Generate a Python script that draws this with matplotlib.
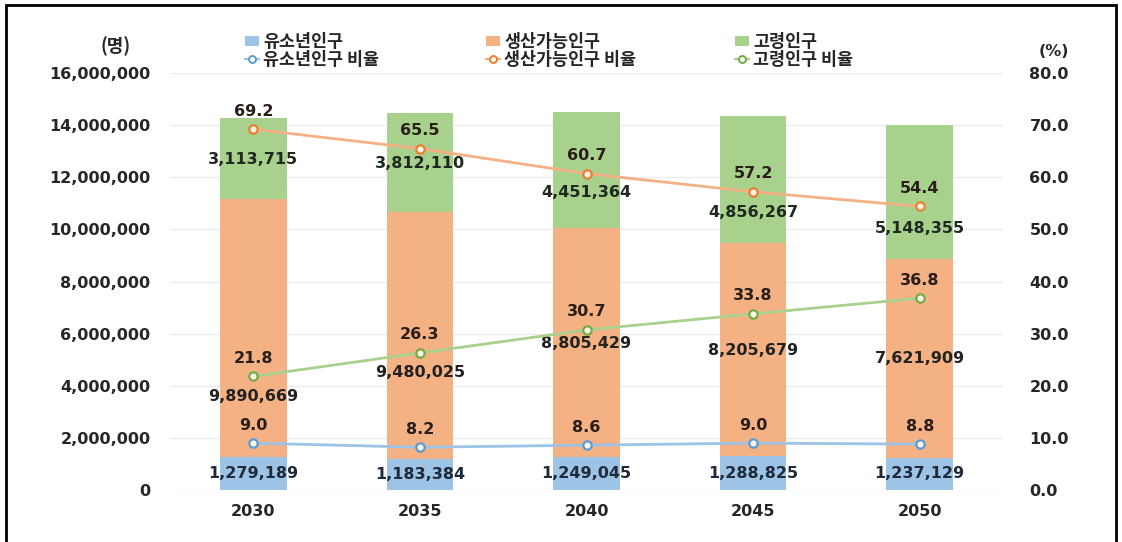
import matplotlib
matplotlib.use('Agg')
import matplotlib.pyplot as plt
from matplotlib.patches import Rectangle, Patch
from matplotlib.lines import Line2D
from matplotlib.ticker import FuncFormatter
import numpy as np

# ---------------- data ----------------
years = ['2030', '2035', '2040', '2045', '2050']
youth = [1279189, 1183384, 1249045, 1288825, 1237129]
working = [9890669, 9480025, 8805429, 8205679, 7621909]
elderly = [3113715, 3812110, 4451364, 4856267, 5148355]
youth_ratio = [9.0, 8.2, 8.6, 9.0, 8.8]
working_ratio = [69.2, 65.5, 60.7, 57.2, 54.4]
elderly_ratio = [21.8, 26.3, 30.7, 33.8, 36.8]
bar_names = ['유소년인구', '생산가능인구', '고령인구']
line_names = ['유소년인구 비율', '생산가능인구 비율', '고령인구 비율']
left_ticks = [0, 2000000, 4000000, 6000000, 8000000, 10000000, 12000000, 14000000, 16000000]
right_ticks = [0, 10, 20, 30, 40, 50, 60, 70, 80]

# ---------------- layout (hand-placed label heights, people axis) ----------------
working_label_y = [3.57e6, 4.49e6, 5.64e6, 5.37e6, 5.03e6]
elderly_label_y = [12.70e6, 12.51e6, 11.40e6, 10.63e6, 10.05e6]

bar_colors = ['#9DC3E6', '#F4B183', '#A9D18E']
line_colors = ['#9DC3E6', '#F4B183', '#A9D18E']
marker_edges = ['#5B9BD5', '#ED7D31', '#70AD47']

W, H = 1122, 542
fig = plt.figure(figsize=(W / 100, H / 100), dpi=100)
fig.patch.set_facecolor('white')

ax = fig.add_axes([170 / W, 52 / H, 833 / W, 417 / H])
ax2 = ax.twinx()

NUM_SIZE = 11.5
num_font = dict(family=['DejaVu Sans'], fontweight='bold', fontsize=NUM_SIZE)
kr_font = ['Noto Sans CJK KR', 'DejaVu Sans']

x = np.arange(len(years))
bw = 0.4
youth_a = np.array(youth)
working_a = np.array(working)
elderly_a = np.array(elderly)

ax.bar(x, youth_a, bw, color=bar_colors[0], zorder=2)
ax.bar(x, working_a, bw, bottom=youth_a, color=bar_colors[1], zorder=2)
ax.bar(x, elderly_a, bw, bottom=youth_a + working_a, color=bar_colors[2], zorder=2)

ax.set_xlim(-0.5, len(years) - 0.5)
ax.set_ylim(0, 16000000)
ax.set_yticks(left_ticks)
ax.yaxis.set_major_formatter(FuncFormatter(lambda v, p: f'{int(v):,}'))
ax.set_xticks(x)
ax.set_xticklabels(years)
ax.yaxis.grid(True, color='#ECECEC', lw=1, zorder=0)
ax.set_axisbelow(True)
for s in ax.spines.values():
    s.set_visible(False)
for s in ax2.spines.values():
    s.set_visible(False)
ax.tick_params(axis='y', length=0, pad=14)
ax.tick_params(axis='x', length=0, pad=10)
for lab in ax.get_yticklabels() + ax.get_xticklabels():
    lab.set_fontfamily('DejaVu Sans')
    lab.set_fontweight('bold')
    lab.set_fontsize(NUM_SIZE)
    lab.set_color('#262626')

ax2.set_ylim(0, 80)
ax2.set_yticks(right_ticks)
ax2.yaxis.set_major_formatter(FuncFormatter(lambda v, p: f'{v:.1f}'))
ax2.tick_params(axis='y', length=0, pad=19)
for lab in ax2.get_yticklabels():
    lab.set_fontfamily('DejaVu Sans')
    lab.set_fontweight('bold')
    lab.set_fontsize(NUM_SIZE)
    lab.set_color('#262626')

# bar value labels
for i in range(len(years)):
    ax.text(x[i], youth_a[i] / 2, f'{youth[i]:,}', ha='center', va='center',
            color='#1F2A3A', zorder=5, **num_font)
    ax.text(x[i], working_label_y[i], f'{working[i]:,}', ha='center', va='center',
            color='#222222', zorder=5, **num_font)
    ax.text(x[i], elderly_label_y[i], f'{elderly[i]:,}', ha='center', va='center',
            color='#1E2A1E', zorder=5, **num_font)

# ratio lines
for vals, lc, me in zip([youth_ratio, working_ratio, elderly_ratio], line_colors, marker_edges):
    ax2.plot(x, vals, color=lc, lw=2, marker='o', ms=6, mfc='#FFF5E6', mec=me, mew=1.6, zorder=4)
    for i, v in enumerate(vals):
        ax2.annotate(f'{v:.1f}', (x[i], v), xytext=(0, 18), textcoords='offset pixels',
                     ha='center', va='center', color='#2A1E18', zorder=6, **num_font)

# axis unit labels
fig.text(116 / W, 1 - 46 / H, '(명)', ha='center', va='center', family=kr_font,
         fontweight='bold', fontsize=13, color='#262626')
fig.text(1054 / W, 1 - 52 / H, '(%)', ha='center', va='center', family=['DejaVu Sans'],
         fontweight='bold', fontsize=NUM_SIZE, color='#262626')

# legends (one per series pair)
leg_x = [245, 486, 735]
for k in range(3):
    handles = [Patch(facecolor=bar_colors[k], edgecolor='none'),
               Line2D([0], [0], color=line_colors[k], lw=1.6, marker='o', ms=5,
                      mfc='white', mec=marker_edges[k], mew=1.4)]
    leg = fig.legend(handles, [bar_names[k], line_names[k]], loc='upper left',
                     bbox_to_anchor=(leg_x[k] / W, 1 - 33 / H), frameon=False,
                     prop=dict(family=kr_font, weight='bold', size=12.5),
                     handlelength=0.8, handleheight=0.5, handletextpad=0.25,
                     labelspacing=-0.02, borderpad=0, borderaxespad=0)
    for t in leg.get_texts():
        t.set_color('#262626')

# outer frame
fig.patches.append(Rectangle((6 / W, -0.05), 1110 / W, 1.05 - 5 / H, transform=fig.transFigure,
                             fill=False, ec='black', lw=2))

fig.savefig('out.png', dpi=100)
